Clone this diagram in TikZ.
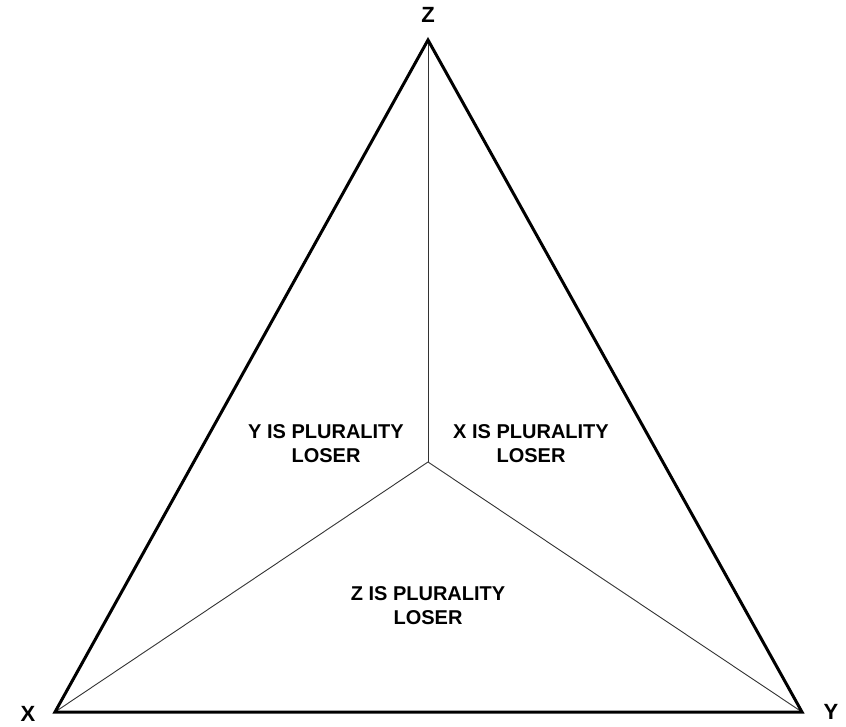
\documentclass[tikz,border=0pt]{standalone}
\usepackage{fontspec}
\setmainfont{Liberation Sans}
\begin{document}
\begin{tikzpicture}[x=1pt,y=-1pt,
  outer/.style={line width=3pt,line join=miter},
  inner/.style={line width=0.9pt,draw=black!80},
  lbl/.style={font=\fontsize{20}{24}\selectfont\bfseries,align=center,inner sep=0pt},
  vlbl/.style={font=\fontsize{22}{26}\selectfont\bfseries,inner sep=0pt}]
\useasboundingbox (0,0) rectangle (846,727);
\coordinate (X) at (55,712);
\coordinate (Y) at (802,712);
\coordinate (Z) at (428,40);
\coordinate (C) at (428,462);
\draw[inner] (C) -- (X);
\draw[inner] (C) -- (Y);
\draw[inner] (C) -- (Z);
\draw[outer] (X) -- (Y) -- (Z) -- cycle;
\node[vlbl] (zl) at (428,15) {Z};
\node[vlbl] (xl) at (28,714) {X};
\node[vlbl] (yl) at (831,712) {Y};
\node[lbl] (yloser) at (326,444) {Y IS PLURALITY\\LOSER};
\node[lbl] (xloser) at (531,444) {X IS PLURALITY\\LOSER};
\node[lbl] (zloser) at (428,606) {Z IS PLURALITY\\LOSER};
\end{tikzpicture}
\end{document}
